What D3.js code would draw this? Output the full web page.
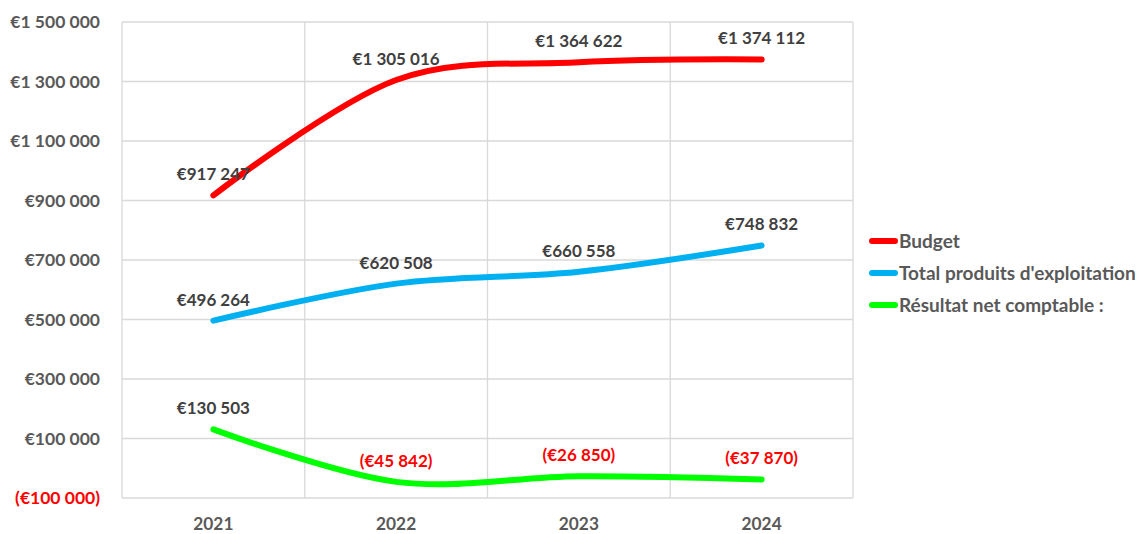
<!DOCTYPE html>
<html>
<head>
<meta charset="utf-8">
<script src="https://cdn.jsdelivr.net/npm/d3@7"></script>
<style>
  body { margin: 0; background: #fff; }
  text { font-family: Lato, "Open Sans", sans-serif; font-weight: bold; }
</style>
</head>
<body>
<svg id="chart"></svg>
<script>
// chart data
const years = ["2021", "2022", "2023", "2024"];
const budget = [917247, 1305016, 1364622, 1374112];
const produits = [496264, 620508, 660558, 748832];
const resultat = [130503, -45842, -26850, -37870];
const seriesNames = ["Budget", "Total produits d'exploitation", "Résultat net comptable :"];
const yTicks = [-100000, 100000, 300000, 500000, 700000, 900000, 1100000, 1300000, 1500000];

const colors = ["#ff0000", "#00b0f0", "#00ff00"];
const series = [budget, produits, resultat].map((vals, i) => ({
    name: seriesNames[i],
    color: colors[i],
    values: vals.map((v, j) => ({ year: years[j], value: v }))
}));

const width = 1142, height = 534;
const margin = { top: 22, right: 289, bottom: 36, left: 122 };
const innerW = width - margin.left - margin.right;
const innerH = height - margin.top - margin.bottom;

const svg = d3.select("#chart").attr("width", width).attr("height", height);
const chart = svg.append("g").attr("transform", `translate(${margin.left},${margin.top})`);

const x = d3.scaleBand().domain(years).range([0, innerW]).padding(0);
const y = d3.scaleLinear().domain([-100000, 1500000]).range([innerH, 0]);

// number format like "€1 305 016" / "(€45 842)"
const fmtNum = d3.formatLocale({ decimal: ",", thousands: "\u00a0", grouping: [3], currency: ["€", ""] }).format(",.0f");
const fmt = v => v < 0 ? `(€${fmtNum(-v)})` : `€${fmtNum(v)}`;

// gridlines
chart.selectAll(".hgrid").data(yTicks).join("line")
    .attr("x1", 0).attr("x2", innerW)
    .attr("y1", d => y(d)).attr("y2", d => y(d))
    .attr("stroke", "#d9d9d9").attr("stroke-width", 1.3);

const vgrid = [0, ...years.map(d => x(d) + x.bandwidth())];
chart.selectAll(".vgrid").data(vgrid).join("line")
    .attr("x1", d => d).attr("x2", d => d)
    .attr("y1", 0).attr("y2", innerH)
    .attr("stroke", "#d9d9d9").attr("stroke-width", 1.3);

// y axis labels
chart.selectAll(".ylab").data(yTicks).join("text")
    .attr("x", -22).attr("y", d => y(d)).attr("dy", "0.35em")
    .attr("text-anchor", "end").attr("font-size", "17.5px")
    .attr("fill", d => d < 0 ? "#ff0000" : "#595959")
    .text(fmt);

// x axis labels
chart.selectAll(".xlab").data(years).join("text")
    .attr("x", d => x(d) + x.bandwidth() / 2).attr("y", innerH + 26).attr("dy", "0.35em")
    .attr("text-anchor", "middle").attr("font-size", "17.3px").attr("fill", "#595959")
    .text(d => d);

const line = d3.line()
    .x(d => x(d.year) + x.bandwidth() / 2)
    .y(d => y(d.value))
    .curve(d3.curveCardinal.tension(0));

chart.selectAll(".series").data(series).join("path")
    .attr("d", d => line(d.values))
    .attr("fill", "none").attr("stroke", d => d.color)
    .attr("stroke-width", 6).attr("stroke-linecap", "round").attr("stroke-linejoin", "round");

// data labels
series.forEach(s => {
    chart.selectAll(null).data(s.values).join("text")
        .attr("x", d => x(d.year) + x.bandwidth() / 2)
        .attr("y", d => y(d.value) - 21).attr("dy", "0.35em")
        .attr("text-anchor", "middle").attr("font-size", "17px")
        .attr("fill", d => d.value < 0 ? "#ff0000" : "#404040")
        .text(d => fmt(d.value));
});

// legend
const legend = svg.append("g").attr("transform", "translate(869,241)");
const item = legend.selectAll("g").data(series).join("g")
    .attr("transform", (d, i) => `translate(0,${i * 32})`);
item.append("line").attr("x1", 3).attr("x2", 26)
    .attr("stroke", d => d.color).attr("stroke-width", 6).attr("stroke-linecap", "round");
item.append("text").attr("x", 30).attr("dy", "0.35em")
    .attr("font-size", "19px").attr("fill", "#595959")
    .text(d => d.name);
</script>
</body>
</html>
